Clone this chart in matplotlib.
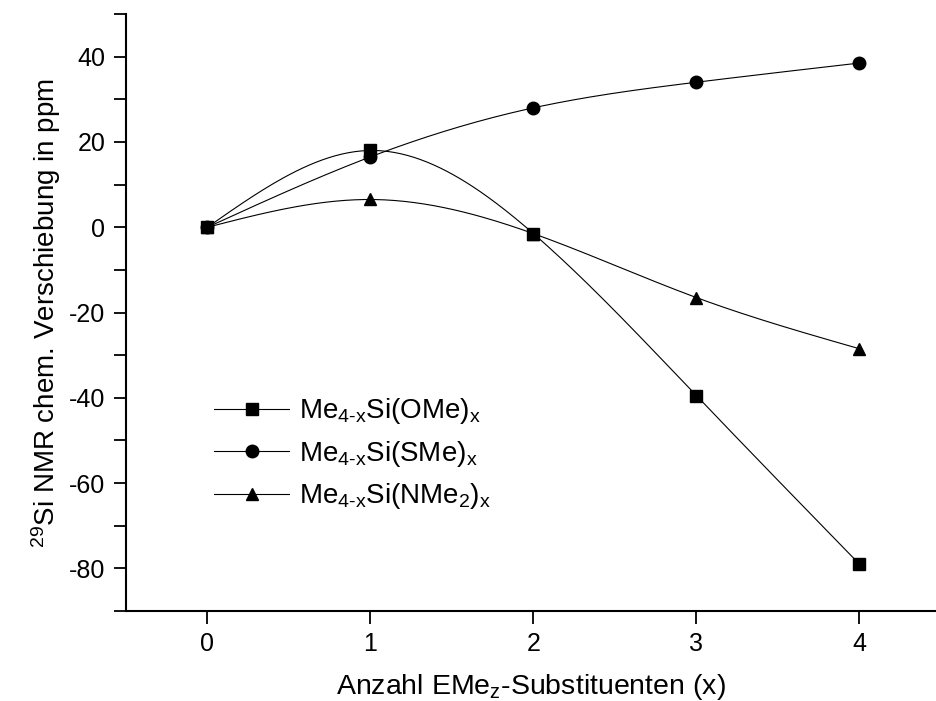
import numpy as np
import matplotlib
matplotlib.use("Agg")
from matplotlib import pyplot as plt

plt.rcParams['font.family'] = ['Liberation Sans', 'DejaVu Sans']
plt.rcParams['mathtext.fontset'] = 'custom'
plt.rcParams['mathtext.rm'] = 'Liberation Sans'
plt.rcParams['mathtext.it'] = 'Liberation Sans'
plt.rcParams['axes.unicode_minus'] = False

x = [0, 1, 2, 3, 4]
ome = [0, 18, -1.5, -39.5, -79]
sme = [0, 16.5, 28, 34, 38.5]
nme2 = [0, 6.5, -1.5, -16.5, -28.5]

labels = [r'$\mathrm{Me_{4\text{-}x}Si(OMe)_x}$',
          r'$\mathrm{Me_{4\text{-}x}Si(SMe)_x}$',
          r'$\mathrm{Me_{4\text{-}x}Si(NMe_2)_x}$']


def spline(xs, ys, n=200):
    # natural cubic spline, only used to draw the smooth connecting line
    xs = np.asarray(xs, float)
    ys = np.asarray(ys, float)
    h = np.diff(xs)
    m = len(xs)
    A = np.zeros((m, m))
    b = np.zeros(m)
    A[0, 0] = A[-1, -1] = 1
    for i in range(1, m - 1):
        A[i, i - 1] = h[i - 1]
        A[i, i] = 2 * (h[i - 1] + h[i])
        A[i, i + 1] = h[i]
        b[i] = 6 * ((ys[i + 1] - ys[i]) / h[i] - (ys[i] - ys[i - 1]) / h[i - 1])
    M = np.linalg.solve(A, b)
    xx = np.linspace(xs[0], xs[-1], n)
    k = np.clip(np.searchsorted(xs, xx) - 1, 0, m - 2)
    t = xx - xs[k]
    hk = h[k]
    yy = (M[k] * (xs[k + 1] - xx) ** 3 / (6 * hk) + M[k + 1] * t ** 3 / (6 * hk)
          + (ys[k] / hk - M[k] * hk / 6) * (xs[k + 1] - xx)
          + (ys[k + 1] / hk - M[k + 1] * hk / 6) * t)
    return xx, yy


fig = plt.figure(figsize=(9.36, 7.01), dpi=100)
ax = fig.add_axes([126 / 936, 1 - 611 / 701, 810 / 936, (611 - 14) / 701])

for ys, mk, lab in zip([ome, sme, nme2], ['s', 'o', '^'], labels):
    xx, yy = spline(x, ys)
    ax.plot(xx, yy, color='black', lw=0.8)
    ax.plot(x, ys, marker=mk, color='black', lw=0.8, ls='none', ms=9)
    ax.plot([], [], marker=mk, color='black', lw=0.8, ms=9, label=lab)

ax.set_xlim(-0.5, 4.47)
ax.set_ylim(-90, 50)
ax.set_xticks([0, 1, 2, 3, 4])
ax.set_yticks(np.arange(-80, 41, 20))
ax.set_yticks(np.arange(-90, 51, 10), minor=True)
ax.tick_params(direction='out', labelsize=18, width=1.3, length=9, pad=6)
ax.tick_params(which='minor', direction='out', width=1.3, length=9)
ax.tick_params(axis='x', which='minor', bottom=False)
for s in ['top', 'right']:
    ax.spines[s].set_visible(False)
for s in ['left', 'bottom']:
    ax.spines[s].set_linewidth(1.5)

ax.set_xlabel(r'Anzahl EMe$_\mathrm{z}$-Substituenten (x)', fontsize=20.5, labelpad=12)
ax.set_ylabel(r'$^{29}$Si NMR chem. Verschiebung in ppm', fontsize=20, labelpad=4)

ax.legend(loc='upper left', bbox_to_anchor=(0.095, 0.378), frameon=False,
          fontsize=20, handlelength=2.7, handletextpad=0.35, labelspacing=0.45,
          borderaxespad=0)

fig.savefig('out.png', dpi=100)
